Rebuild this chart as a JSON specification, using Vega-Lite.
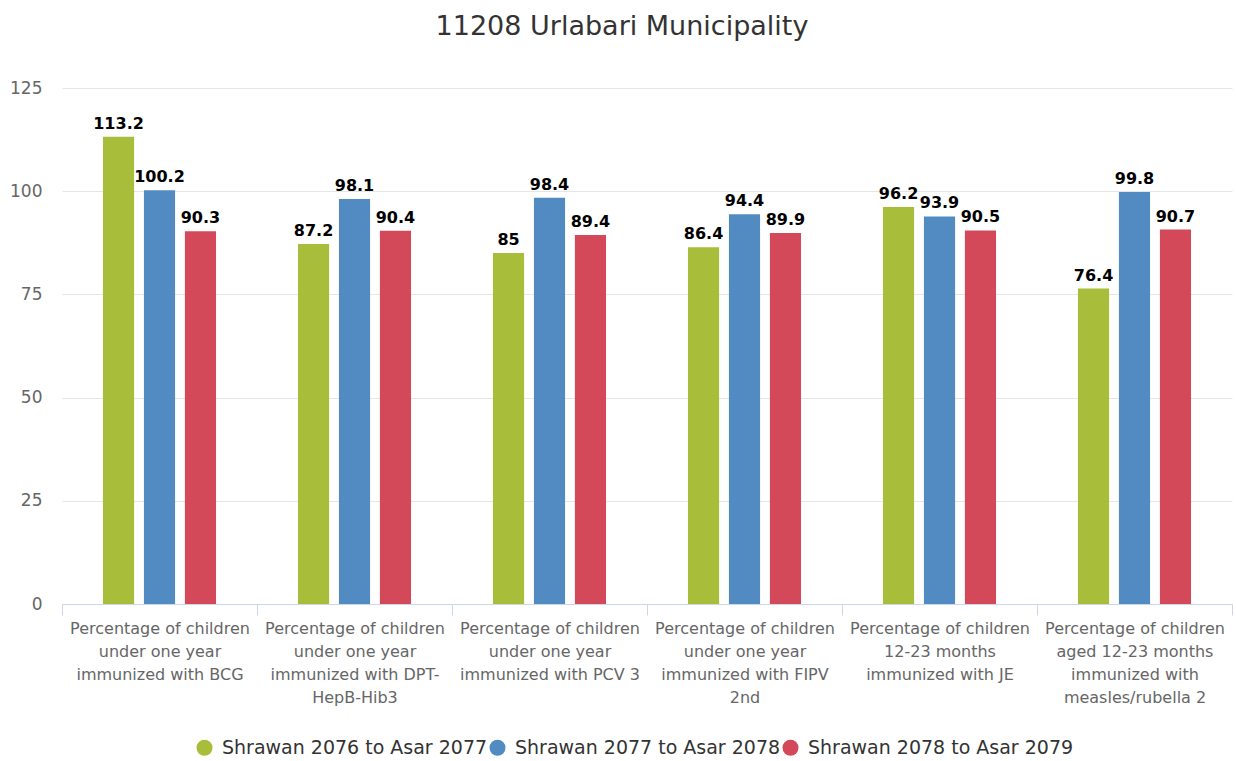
{
  "$schema": "https://vega.github.io/schema/vega-lite/v6.json",
  "width": 1170,
  "height": 516,
  "autosize": {"type": "none"},
  "padding": {"left": 62, "top": 88, "right": 4, "bottom": 157},
  "background": "#ffffff",
  "config": {
    "font": "DejaVu Sans",
    "view": {"stroke": null}
  },
  "title": {
    "text": "11208 Urlabari Municipality",
    "fontSize": 27,
    "fontWeight": "normal",
    "color": "#333333",
    "offset": 38,
    "dx": -25,
    "anchor": "middle"
  },
  "data": {
    "values": [
      {"category": "Percentage of children|under one year|immunized with BCG", "series": "Shrawan 2076 to Asar 2077", "value": 113.2},
      {"category": "Percentage of children|under one year|immunized with BCG", "series": "Shrawan 2077 to Asar 2078", "value": 100.2},
      {"category": "Percentage of children|under one year|immunized with BCG", "series": "Shrawan 2078 to Asar 2079", "value": 90.3},
      {"category": "Percentage of children|under one year|immunized with DPT-|HepB-Hib3", "series": "Shrawan 2076 to Asar 2077", "value": 87.2},
      {"category": "Percentage of children|under one year|immunized with DPT-|HepB-Hib3", "series": "Shrawan 2077 to Asar 2078", "value": 98.1},
      {"category": "Percentage of children|under one year|immunized with DPT-|HepB-Hib3", "series": "Shrawan 2078 to Asar 2079", "value": 90.4},
      {"category": "Percentage of children|under one year|immunized with PCV 3", "series": "Shrawan 2076 to Asar 2077", "value": 85},
      {"category": "Percentage of children|under one year|immunized with PCV 3", "series": "Shrawan 2077 to Asar 2078", "value": 98.4},
      {"category": "Percentage of children|under one year|immunized with PCV 3", "series": "Shrawan 2078 to Asar 2079", "value": 89.4},
      {"category": "Percentage of children|under one year|immunized with FIPV|2nd", "series": "Shrawan 2076 to Asar 2077", "value": 86.4},
      {"category": "Percentage of children|under one year|immunized with FIPV|2nd", "series": "Shrawan 2077 to Asar 2078", "value": 94.4},
      {"category": "Percentage of children|under one year|immunized with FIPV|2nd", "series": "Shrawan 2078 to Asar 2079", "value": 89.9},
      {"category": "Percentage of children|12-23 months|immunized with JE", "series": "Shrawan 2076 to Asar 2077", "value": 96.2},
      {"category": "Percentage of children|12-23 months|immunized with JE", "series": "Shrawan 2077 to Asar 2078", "value": 93.9},
      {"category": "Percentage of children|12-23 months|immunized with JE", "series": "Shrawan 2078 to Asar 2079", "value": 90.5},
      {"category": "Percentage of children|aged 12-23 months|immunized with|measles/rubella 2", "series": "Shrawan 2076 to Asar 2077", "value": 76.4},
      {"category": "Percentage of children|aged 12-23 months|immunized with|measles/rubella 2", "series": "Shrawan 2077 to Asar 2078", "value": 99.8},
      {"category": "Percentage of children|aged 12-23 months|immunized with|measles/rubella 2", "series": "Shrawan 2078 to Asar 2079", "value": 90.7}
    ]
  },
  "encoding": {
    "x": {
      "field": "category",
      "type": "nominal",
      "sort": null,
      "scale": {"paddingInner": 0, "paddingOuter": 0},
      "axis": {
        "title": null,
        "labelAngle": 0,
        "labelExpr": "split(datum.label, '|')",
        "labelFontSize": 16,
        "labelColor": "#666666",
        "labelLineHeight": 23,
        "labelLimit": 0,
        "labelBaseline": "top",
        "labelPadding": 5,
        "domainColor": "#ccd6eb",
        "tickColor": "#ccd6eb",
        "tickBand": "extent",
        "tickSize": 11,
        "grid": false
      }
    },
    "xOffset": {
      "field": "series",
      "type": "nominal",
      "scale": {"paddingInner": 0.24, "paddingOuter": 1.45}
    },
    "y": {
      "field": "value",
      "type": "quantitative",
      "scale": {"domain": [0, 125], "nice": false},
      "axis": {
        "title": null,
        "values": [0, 25, 50, 75, 100, 125],
        "domain": false,
        "ticks": false,
        "gridColor": "#e6e6e6",
        "labelFontSize": 17,
        "labelColor": "#666666",
        "labelPadding": 20
      }
    }
  },
  "layer": [
    {
      "mark": {"type": "bar"},
      "encoding": {
        "color": {
          "field": "series",
          "type": "nominal",
          "scale": {
            "domain": ["Shrawan 2076 to Asar 2077", "Shrawan 2077 to Asar 2078", "Shrawan 2078 to Asar 2079"],
            "range": ["#a8bd39", "#518bc2", "#d4495a"]
          },
          "legend": {
            "title": null,
            "orient": "none",
            "legendX": 133,
            "legendY": 650,
            "direction": "horizontal",
            "symbolType": "circle",
            "symbolSize": 256,
            "symbolStrokeWidth": 0,
            "labelFontSize": 19,
            "labelColor": "#333333",
            "labelOffset": 8,
            "columnPadding": 0,
            "labelLimit": 400
          }
        }
      }
    },
    {
      "mark": {"type": "text", "baseline": "bottom", "dy": -5, "fontSize": 16, "fontWeight": "bold", "color": "#000000"},
      "encoding": {
        "text": {"field": "value", "type": "quantitative"}
      }
    }
  ]
}
